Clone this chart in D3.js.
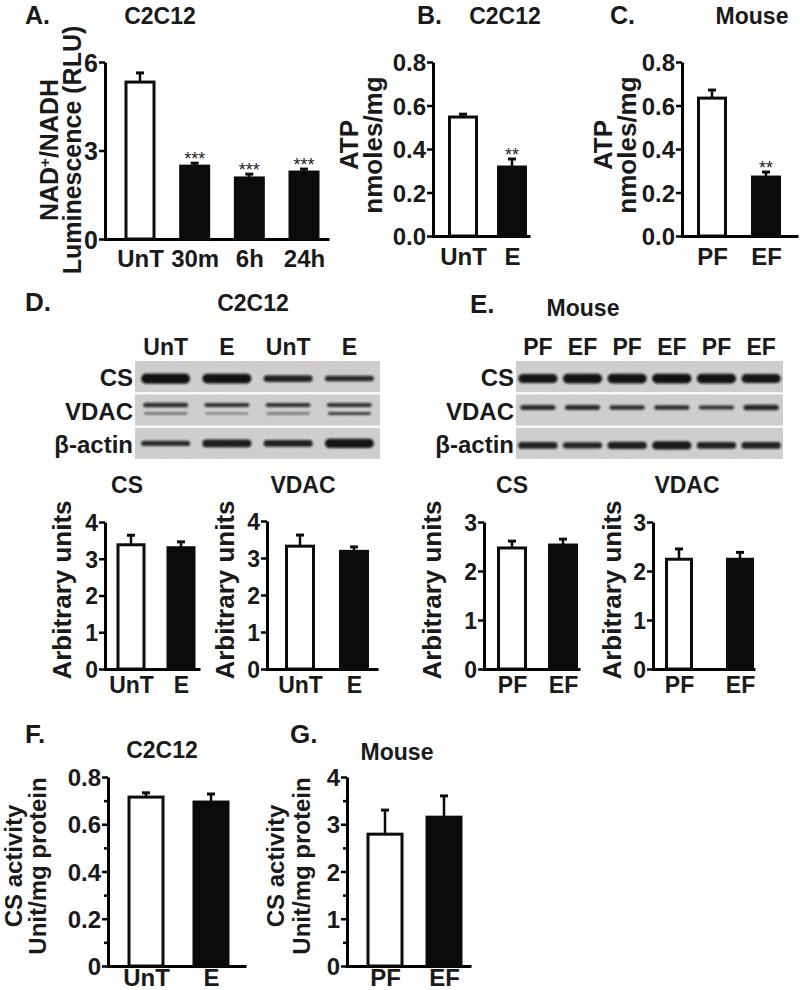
<!DOCTYPE html>
<html>
<head>
<meta charset="utf-8">
<script src="https://cdn.jsdelivr.net/npm/d3@7"></script>
<style>
  body { margin: 0; background: #fff; }
  svg { display: block; font-family: "Liberation Sans", Arial, Helvetica, sans-serif; font-weight: bold; }
</style>
</head>
<body>
<svg id="fig" width="800" height="990"></svg>
<script>
// ---- data ----
var aCats = ["UnT", "30m", "6h", "24h"];
var aMean = [5.32, 2.47, 2.07, 2.27];
var aSem = [0.31, 0.10, 0.13, 0.10];
var aStars = ["", "***", "***", "***"];
var aTicks = [0, 3, 6];

var bCats = ["UnT", "E"];
var bMean = [0.547, 0.317];
var bSem = [0.013, 0.037];
var bStars = ["", "**"];

var cCats = ["PF", "EF"];
var cMean = [0.634, 0.271];
var cSem = [0.037, 0.023];
var cStars = ["", "**"];

var atpTicks = [0, 0.2, 0.4, 0.6, 0.8];

var dCats = ["UnT", "E"];
var dCsMean = [3.38, 3.30];
var dCsSem = [0.26, 0.16];
var dVdacMean = [3.32, 3.18];
var dVdacSem = [0.30, 0.12];
var dTicks = [0, 1, 2, 3, 4];

var eCats = ["PF", "EF"];
var eCsMean = [2.47, 2.53];
var eCsSem = [0.14, 0.12];
var eVdacMean = [2.24, 2.24];
var eVdacSem = [0.21, 0.14];
var eTicks = [0, 1, 2, 3];

var fCats = ["UnT", "E"];
var fMean = [0.715, 0.694];
var fSem = [0.018, 0.034];
var fTicks = [0, 0.2, 0.4, 0.6, 0.8];
var fMinor = [0.1, 0.3, 0.5, 0.7];

var gCats = ["PF", "EF"];
var gMean = [2.79, 3.15];
var gSem = [0.51, 0.45];
var gTicks = [0, 1, 2, 3, 4];
var gMinor = [0.5, 1.5, 2.5, 3.5];

// western blots: relative band signal per lane
var blotRows = ["CS", "VDAC", "β-actin"];
var dLanes = ["UnT", "E", "UnT", "E"];
var dCsBand = [0.92, 0.90, 0.62, 0.5];
var dVdacUpper = [0.42, 0.36, 0.36, 0.38];
var dVdacLower = [0.2, 0.15, 0.18, 0.27];
var dActinBand = [0.48, 0.7, 0.62, 0.85];

var eLanes = ["PF", "EF", "PF", "EF", "PF", "EF"];
var eCsBand = [0.82, 0.88, 0.88, 0.9, 0.88, 0.82];
var eVdacBand = [0.45, 0.45, 0.4, 0.42, 0.38, 0.52];
var eActinBand = [0.62, 0.55, 0.65, 0.75, 0.6, 0.62];

var svg = d3.select("#fig");
var FONT = '"Liberation Sans", Arial, Helvetica, sans-serif';

function label(x, y, txt, size, anchor) {
  return svg.append("text")
    .attr("x", x).attr("y", y)
    .attr("font-size", size)
    .attr("text-anchor", anchor || "middle")
    .attr("fill", "#1a1a1a")
    .text(txt);
}

function styleAxis(g, fontSize) {
  g.attr("font-size", null).attr("font-family", null);
  g.selectAll("text").attr("font-size", fontSize).attr("font-family", FONT)
    .attr("font-weight", "bold").attr("fill", "#1a1a1a");
}

function barChart(o) {
  var y = d3.scaleLinear().domain(o.domain).range([o.y0, o.y1]);
  var x = d3.scalePoint().domain(o.cats).range([o.c0, o.c1]);
  var g = svg.append("g");

  var ya = g.append("g").attr("transform", "translate(" + o.x0 + ",0)")
    .call(d3.axisLeft(y).tickValues(o.ticks).tickFormat(o.fmt)
      .tickSize(6).tickSizeOuter(0).tickPadding(1));
  ya.select(".domain").attr("stroke-width", 3);
  ya.selectAll(".tick line").attr("stroke-width", 2.5);
  ya.selectAll(".tick text").attr("dy", "0.36em");
  styleAxis(ya, o.tickFont);

  if (o.minor) {
    var ym = g.append("g").attr("transform", "translate(" + o.x0 + ",0)")
      .call(d3.axisLeft(y).tickValues(o.minor).tickFormat("").tickSize(4).tickSizeOuter(0));
    ym.select(".domain").remove();
    ym.selectAll(".tick line").attr("stroke-width", 2.5);
  }

  // x axis line
  var xl = g.append("g").attr("transform", "translate(0," + o.y0 + ")")
    .call(d3.axisBottom(d3.scaleLinear().range([o.x0 - 1.5, o.x1])).tickValues([]).tickSizeOuter(0));
  xl.select(".domain").attr("stroke-width", 3);

  // category labels
  var pad = o.xlabBase - o.y0 - 0.71 * o.xFont;
  var xa = g.append("g").attr("transform", "translate(0," + o.y0 + ")")
    .call(d3.axisBottom(x).tickSize(0).tickPadding(pad));
  xa.select(".domain").remove();
  styleAxis(xa, o.xFont);

  var rows = o.cats.map(function(c, i) {
    return { cat: c, mean: o.mean[i], sem: o.sem[i], star: o.stars ? o.stars[i] : "" };
  });

  g.selectAll("rect.bar").data(rows).enter().append("rect")
    .attr("class", "bar")
    .attr("x", function(d) { return x(d.cat) - o.bw / 2; })
    .attr("y", function(d) { return y(d.mean); })
    .attr("width", o.bw)
    .attr("height", function(d) { return y(0) - y(d.mean); })
    .attr("fill", function(d, i) { return i === 0 ? "#fff" : "#0b0b0b"; })
    .attr("stroke", "#0b0b0b").attr("stroke-width", 3);

  g.selectAll("line.err").data(rows).enter().append("line")
    .attr("class", "err")
    .attr("x1", function(d) { return x(d.cat); })
    .attr("x2", function(d) { return x(d.cat); })
    .attr("y1", function(d) { return y(d.mean); })
    .attr("y2", function(d) { return y(d.mean + d.sem); })
    .attr("stroke", "#0b0b0b").attr("stroke-width", 2.5);

  g.selectAll("line.cap").data(rows).enter().append("line")
    .attr("class", "cap")
    .attr("x1", function(d) { return x(d.cat) - 4; })
    .attr("x2", function(d) { return x(d.cat) + 4; })
    .attr("y1", function(d) { return y(d.mean + d.sem); })
    .attr("y2", function(d) { return y(d.mean + d.sem); })
    .attr("stroke", "#0b0b0b").attr("stroke-width", 3);

  g.selectAll("text.star").data(rows).enter().append("text")
    .attr("class", "star")
    .attr("x", function(d) { return x(d.cat); })
    .attr("y", function(d) { return y(d.mean + d.sem) + 2; })
    .attr("text-anchor", "middle")
    .attr("font-size", 18).attr("font-weight", "normal")
    .attr("fill", "#222")
    .text(function(d) { return d.star; });

  // y labels (rotated)
  o.ylabels.forEach(function(l) {
    var t = g.append("text")
      .attr("transform", "translate(" + l.x + "," + o.ycy + ") rotate(-90)")
      .attr("text-anchor", "middle")
      .attr("font-size", o.yFont)
      .attr("fill", "#1a1a1a");
    if (l.sup) {
      t.append("tspan").text(l.sup[0]);
      t.append("tspan").attr("baseline-shift", "super").attr("font-size", o.yFont * 0.6).text(l.sup[1]);
      t.append("tspan").text(l.sup[2]);
    } else {
      t.text(l.t);
    }
  });

  if (o.title) label(o.title[1], o.title[2], o.title[0], o.titleFont || 23);
}

function blot(o) {
  var g = svg.append("g");
  var rowY = d3.scaleBand().domain(blotRows).range([o.y0, o.y1]).paddingInner(0.065);
  var lane = d3.scaleBand().domain(d3.range(o.lanes.length)).range([o.x0, o.x1])
    .paddingInner(o.padIn).paddingOuter(o.padOut);
  var thick = d3.scaleLinear().domain([0, 1]).range([0, 11]);
  var dark = d3.scaleLinear().domain([0, 0.3, 1]).range([0.35, 0.8, 1]).clamp(true);

  g.selectAll("rect.strip").data(blotRows).enter().append("rect")
    .attr("class", "strip")
    .attr("x", o.x0).attr("width", o.x1 - o.x0)
    .attr("y", function(r) { return rowY(r); })
    .attr("height", rowY.bandwidth())
    .attr("fill", "#cbcbcb")
    .attr("filter", "url(#grain)");

  o.bands.forEach(function(b) {
    var bands = b.values.map(function(v, i) { return { lane: i, v: v }; });
    g.selectAll(null).data(bands).enter().append("rect")
      .attr("x", function(d) { return lane(d.lane) + b.inset; })
      .attr("width", lane.bandwidth() - 2 * b.inset)
      .attr("y", function(d) { return rowY(b.row) + rowY.bandwidth() / 2 + b.off - thick(d.v) / 2; })
      .attr("height", function(d) { return thick(d.v); })
      .attr("rx", function(d) { return thick(d.v) / 2; })
      .attr("fill", "#111")
      .attr("opacity", function(d) { return dark(d.v); })
      .attr("filter", "url(#soft)");
  });

  var la = g.append("g").attr("transform", "translate(0," + o.y0 + ")")
    .call(d3.axisTop(lane).tickSize(0).tickPadding(6).tickFormat(function(i) { return o.lanes[i]; }));
  la.select(".domain").remove();
  styleAxis(la, 23);

  var ra = g.append("g").attr("transform", "translate(" + (o.x0 - 2) + ",0)")
    .call(d3.axisLeft(rowY).tickSize(0).tickPadding(0));
  ra.select(".domain").remove();
  styleAxis(ra, 24);
  ra.selectAll("text").attr("dy", "0.4em");
}

// filters
var defs = svg.append("defs");
defs.append("filter").attr("id", "soft").attr("x", "-20%").attr("y", "-100%").attr("width", "140%").attr("height", "300%")
  .append("feGaussianBlur").attr("stdDeviation", 1.1);
var grain = defs.append("filter").attr("id", "grain");
grain.append("feTurbulence").attr("type", "fractalNoise").attr("baseFrequency", 0.9).attr("numOctaves", 1).attr("result", "n");
grain.append("feColorMatrix").attr("in", "n").attr("type", "matrix")
  .attr("values", "0 0 0 0 0.78  0 0 0 0 0.78  0 0 0 0 0.78  0 0 0 0.25 0").attr("result", "c");
grain.append("feComposite").attr("in", "c").attr("in2", "SourceGraphic").attr("operator", "in").attr("result", "cc");
var gm = grain.append("feMerge");
gm.append("feMergeNode").attr("in", "SourceGraphic");
gm.append("feMergeNode").attr("in", "cc");

var fmt1 = d3.format(".1f");
var fmt0 = function(v) { return v === 0 ? "0" : d3.format(".1f")(v); };

// ---- A ----
label(25, 24, "A.", 25, "start");
barChart({ cats: aCats, mean: aMean, sem: aSem, stars: aStars, domain: [0, 6], ticks: aTicks, fmt: d3.format("d"),
  y0: 239, y1: 62, x0: 105, x1: 329, c0: 140, c1: 304, bw: 28,
  tickFont: 25, xFont: 24, xlabBase: 267, yFont: 25, ycy: 150,
  ylabels: [{ sup: ["NAD", "+", "/NADH"], x: 58 }, { t: "Luminescence (RLU)", x: 81 }],
  title: ["C2C12", 160, 24] });

// ---- B ----
label(417, 24, "B.", 25, "start");
barChart({ cats: bCats, mean: bMean, sem: bSem, stars: bStars, domain: [0, 0.8], ticks: atpTicks, fmt: fmt1,
  y0: 236, y1: 62, x0: 433, x1: 530, c0: 463, c1: 512, bw: 27,
  tickFont: 24, xFont: 24, xlabBase: 265, yFont: 26, ycy: 145,
  ylabels: [{ t: "ATP", x: 358 }, { t: "nmoles/mg", x: 382 }],
  title: ["C2C12", 505, 24] });

// ---- C ----
label(610, 24, "C.", 25, "start");
barChart({ cats: cCats, mean: cMean, sem: cSem, stars: cStars, domain: [0, 0.8], ticks: atpTicks, fmt: fmt1,
  y0: 236, y1: 62, x0: 682, x1: 798, c0: 712, c1: 766, bw: 27,
  tickFont: 24, xFont: 24, xlabBase: 265, yFont: 26, ycy: 145,
  ylabels: [{ t: "ATP", x: 612 }, { t: "nmoles/mg", x: 636 }],
  title: ["Mouse", 752, 24] });

// ---- D ----
label(25, 311, "D.", 26, "start");
label(253, 311, "C2C12", 23);
blot({ lanes: dLanes, x0: 135, x1: 380, y0: 361, y1: 459, padIn: 0.2, padOut: 0.1,
  bands: [
    { row: "CS", values: dCsBand, off: 2, inset: 0 },
    { row: "VDAC", values: dVdacUpper, off: -5, inset: 2 },
    { row: "VDAC", values: dVdacLower, off: 3.5, inset: 3 },
    { row: "β-actin", values: dActinBand, off: 0, inset: 0 }
  ] });
barChart({ cats: dCats, mean: dCsMean, sem: dCsSem, domain: [0, 4], ticks: dTicks, fmt: d3.format("d"),
  y0: 669, y1: 522, x0: 105, x1: 200, c0: 131, c1: 181, bw: 26,
  tickFont: 23, xFont: 23, xlabBase: 693, yFont: 26, ycy: 590,
  ylabels: [{ t: "Arbitrary units", x: 71 }],
  title: ["CS", 127, 493] });
barChart({ cats: dCats, mean: dVdacMean, sem: dVdacSem, domain: [0, 4], ticks: dTicks, fmt: d3.format("d"),
  y0: 669, y1: 521, x0: 267, x1: 378, c0: 300, c1: 354, bw: 27,
  tickFont: 23, xFont: 23, xlabBase: 693, yFont: 26, ycy: 590,
  ylabels: [{ t: "Arbitrary units", x: 234 }],
  title: ["VDAC", 303, 493] });

// ---- E ----
label(470, 313, "E.", 26, "start");
label(583, 316, "Mouse", 23);
blot({ lanes: eLanes, x0: 516, x1: 783, y0: 361, y1: 459, padIn: 0.12, padOut: 0.05,
  bands: [
    { row: "CS", values: eCsBand, off: 2, inset: 0 },
    { row: "VDAC", values: eVdacBand, off: -2.5, inset: 2 },
    { row: "β-actin", values: eActinBand, off: 2, inset: 0 }
  ] });
barChart({ cats: eCats, mean: eCsMean, sem: eCsSem, domain: [0, 3], ticks: eTicks, fmt: d3.format("d"),
  y0: 669, y1: 522, x0: 484, x1: 580, c0: 512, c1: 563, bw: 27,
  tickFont: 23, xFont: 23, xlabBase: 693, yFont: 26, ycy: 590,
  ylabels: [{ t: "Arbitrary units", x: 441 }],
  title: ["CS", 512, 493] });
barChart({ cats: eCats, mean: eVdacMean, sem: eVdacSem, domain: [0, 3], ticks: eTicks, fmt: d3.format("d"),
  y0: 669, y1: 522, x0: 653, x1: 755, c0: 679, c1: 740, bw: 25,
  tickFont: 23, xFont: 23, xlabBase: 693, yFont: 26, ycy: 590,
  ylabels: [{ t: "Arbitrary units", x: 621 }],
  title: ["VDAC", 687, 493] });

// ---- F ----
label(25, 743, "F.", 26, "start");
barChart({ cats: fCats, mean: fMean, sem: fSem, domain: [0, 0.8], ticks: fTicks, minor: fMinor, fmt: fmt0,
  y0: 966, y1: 777, x0: 108, x1: 246, c0: 146, c1: 211, bw: 34,
  tickFont: 24, xFont: 24, xlabBase: 986, yFont: 24, ycy: 866,
  ylabels: [{ t: "CS activity", x: 22 }, { t: "Unit/mg protein", x: 46 }],
  title: ["C2C12", 162, 758] });

// ---- G ----
label(290, 743, "G.", 26, "start");
barChart({ cats: gCats, mean: gMean, sem: gSem, domain: [0, 4], ticks: gTicks, minor: gMinor, fmt: d3.format("d"),
  y0: 966, y1: 777, x0: 347, x1: 471, c0: 385, c1: 444, bw: 34,
  tickFont: 24, xFont: 24, xlabBase: 986, yFont: 24, ycy: 866,
  ylabels: [{ t: "CS activity", x: 284 }, { t: "Unit/mg protein", x: 310 }],
  title: ["Mouse", 397, 760] });
</script>
</body>
</html>
